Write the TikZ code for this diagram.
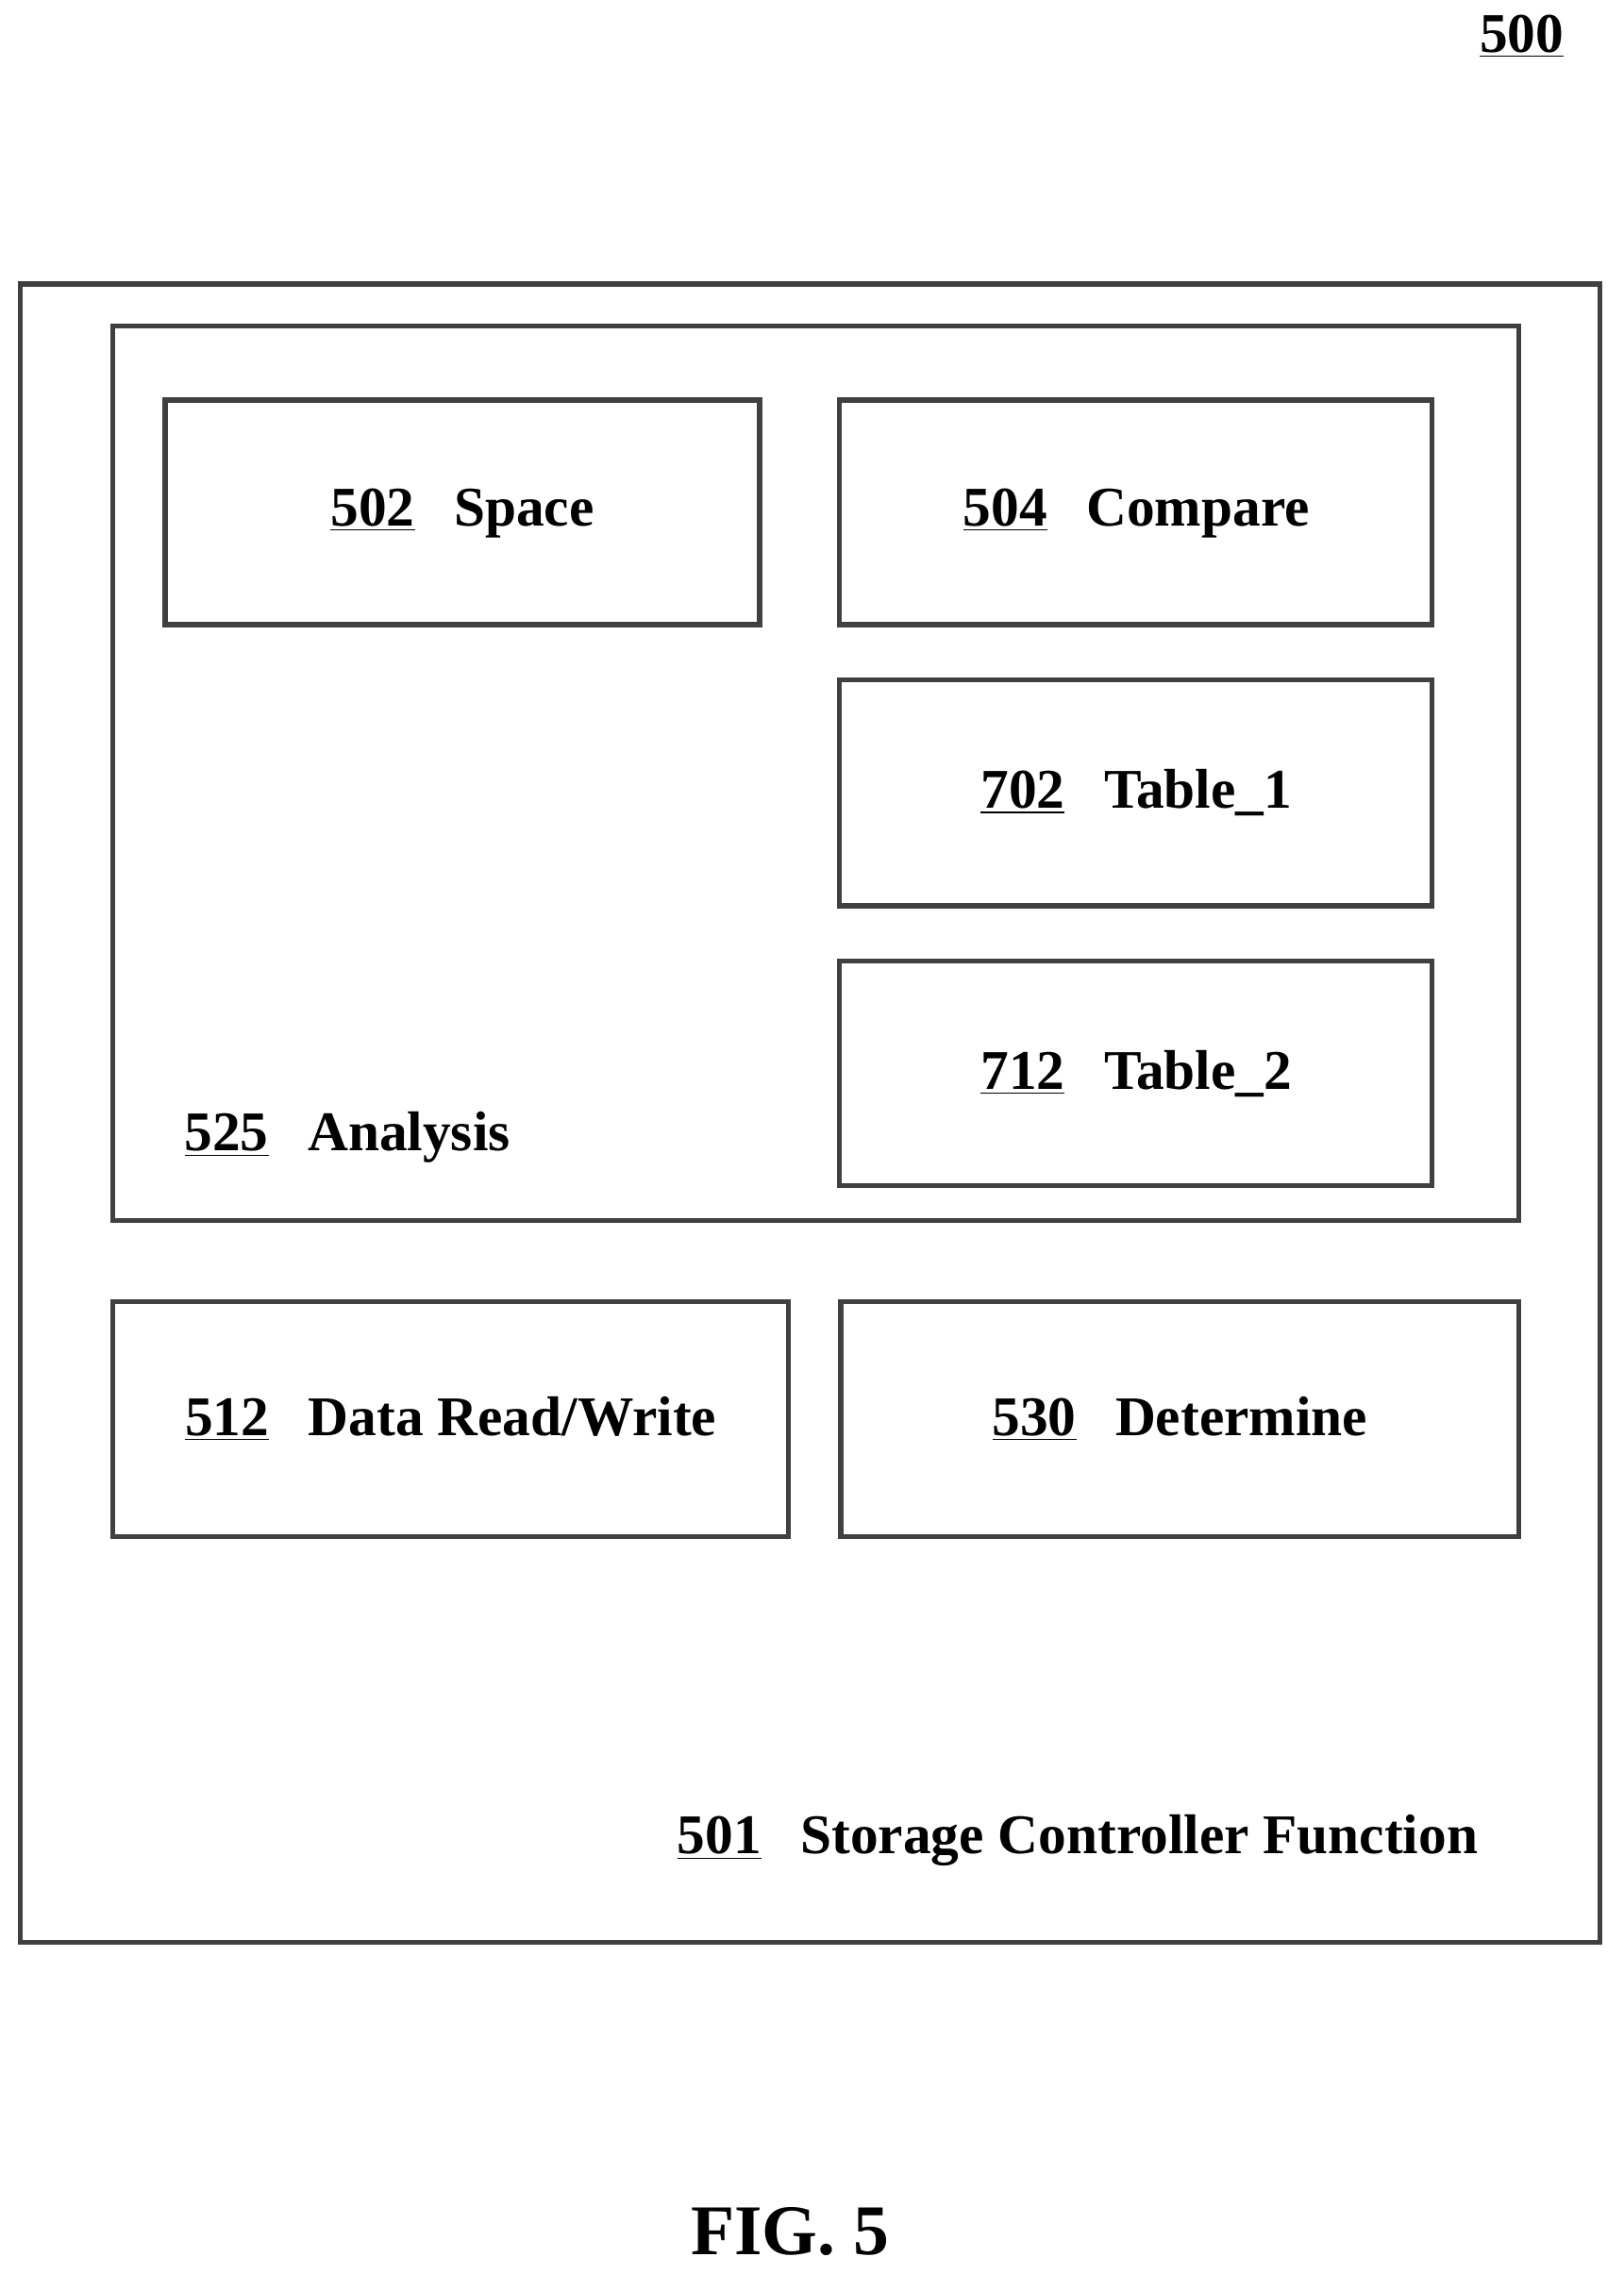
\documentclass[tikz,border=0pt]{standalone}
\usepackage{fontspec}
\setmainfont{Liberation Serif}
\usetikzlibrary{positioning}
\tikzset{
  blk/.style={draw=black!75, line width=0.07cm, rectangle, inner sep=0pt},
  lbl/.style={font=\bfseries\fontsize{22}{26}\selectfont, inner sep=0pt}
}
\newcommand{\refno}[1]{\underline{#1}\hspace{0.7em}}
\begin{document}
\begin{tikzpicture}[x=0.02cm, y=-0.02cm]
\useasboundingbox (0,0) rectangle (1120,1569);
% outer and analysis frames
\draw[blk] (14,196) rectangle (1104,1340);
\draw[blk] (78,225) rectangle (1048,842);
% inner blocks
\draw[blk] (114,276) rectangle (524,431); \node[lbl] (space) at (319,354) {\refno{502}Space};
\draw[blk] (579,276) rectangle (988,431); \node[lbl] (compare) at (784,354) {\refno{504}Compare};
\draw[blk] (579,469) rectangle (988,625); \node[lbl] (tab1) at (784,547) {\refno{702}Table\_1};
\draw[blk] (579,663) rectangle (988,818); \node[lbl] (tab2) at (784,741) {\refno{712}Table\_2};
\draw[blk] (78,898) rectangle (544,1060); \node[lbl] (rw) at (311,979) {\refno{512}Data Read/Write};
\draw[blk] (580,898) rectangle (1048,1060); \node[lbl] (det) at (814,979) {\refno{530}Determine};
% frame labels
\node[lbl, anchor=west] (analysis) at (127,785) {\refno{525}Analysis};
\node[lbl, anchor=east] (scf) at (1020,1270) {\refno{501}Storage Controller Function};
\node[lbl] (fig) at (1050,25) {\underline{500}};
\node[lbl, font=\bfseries\fontsize{28}{32}\selectfont] (caption) at (545,1540) {FIG. 5};
\end{tikzpicture}
\end{document}
